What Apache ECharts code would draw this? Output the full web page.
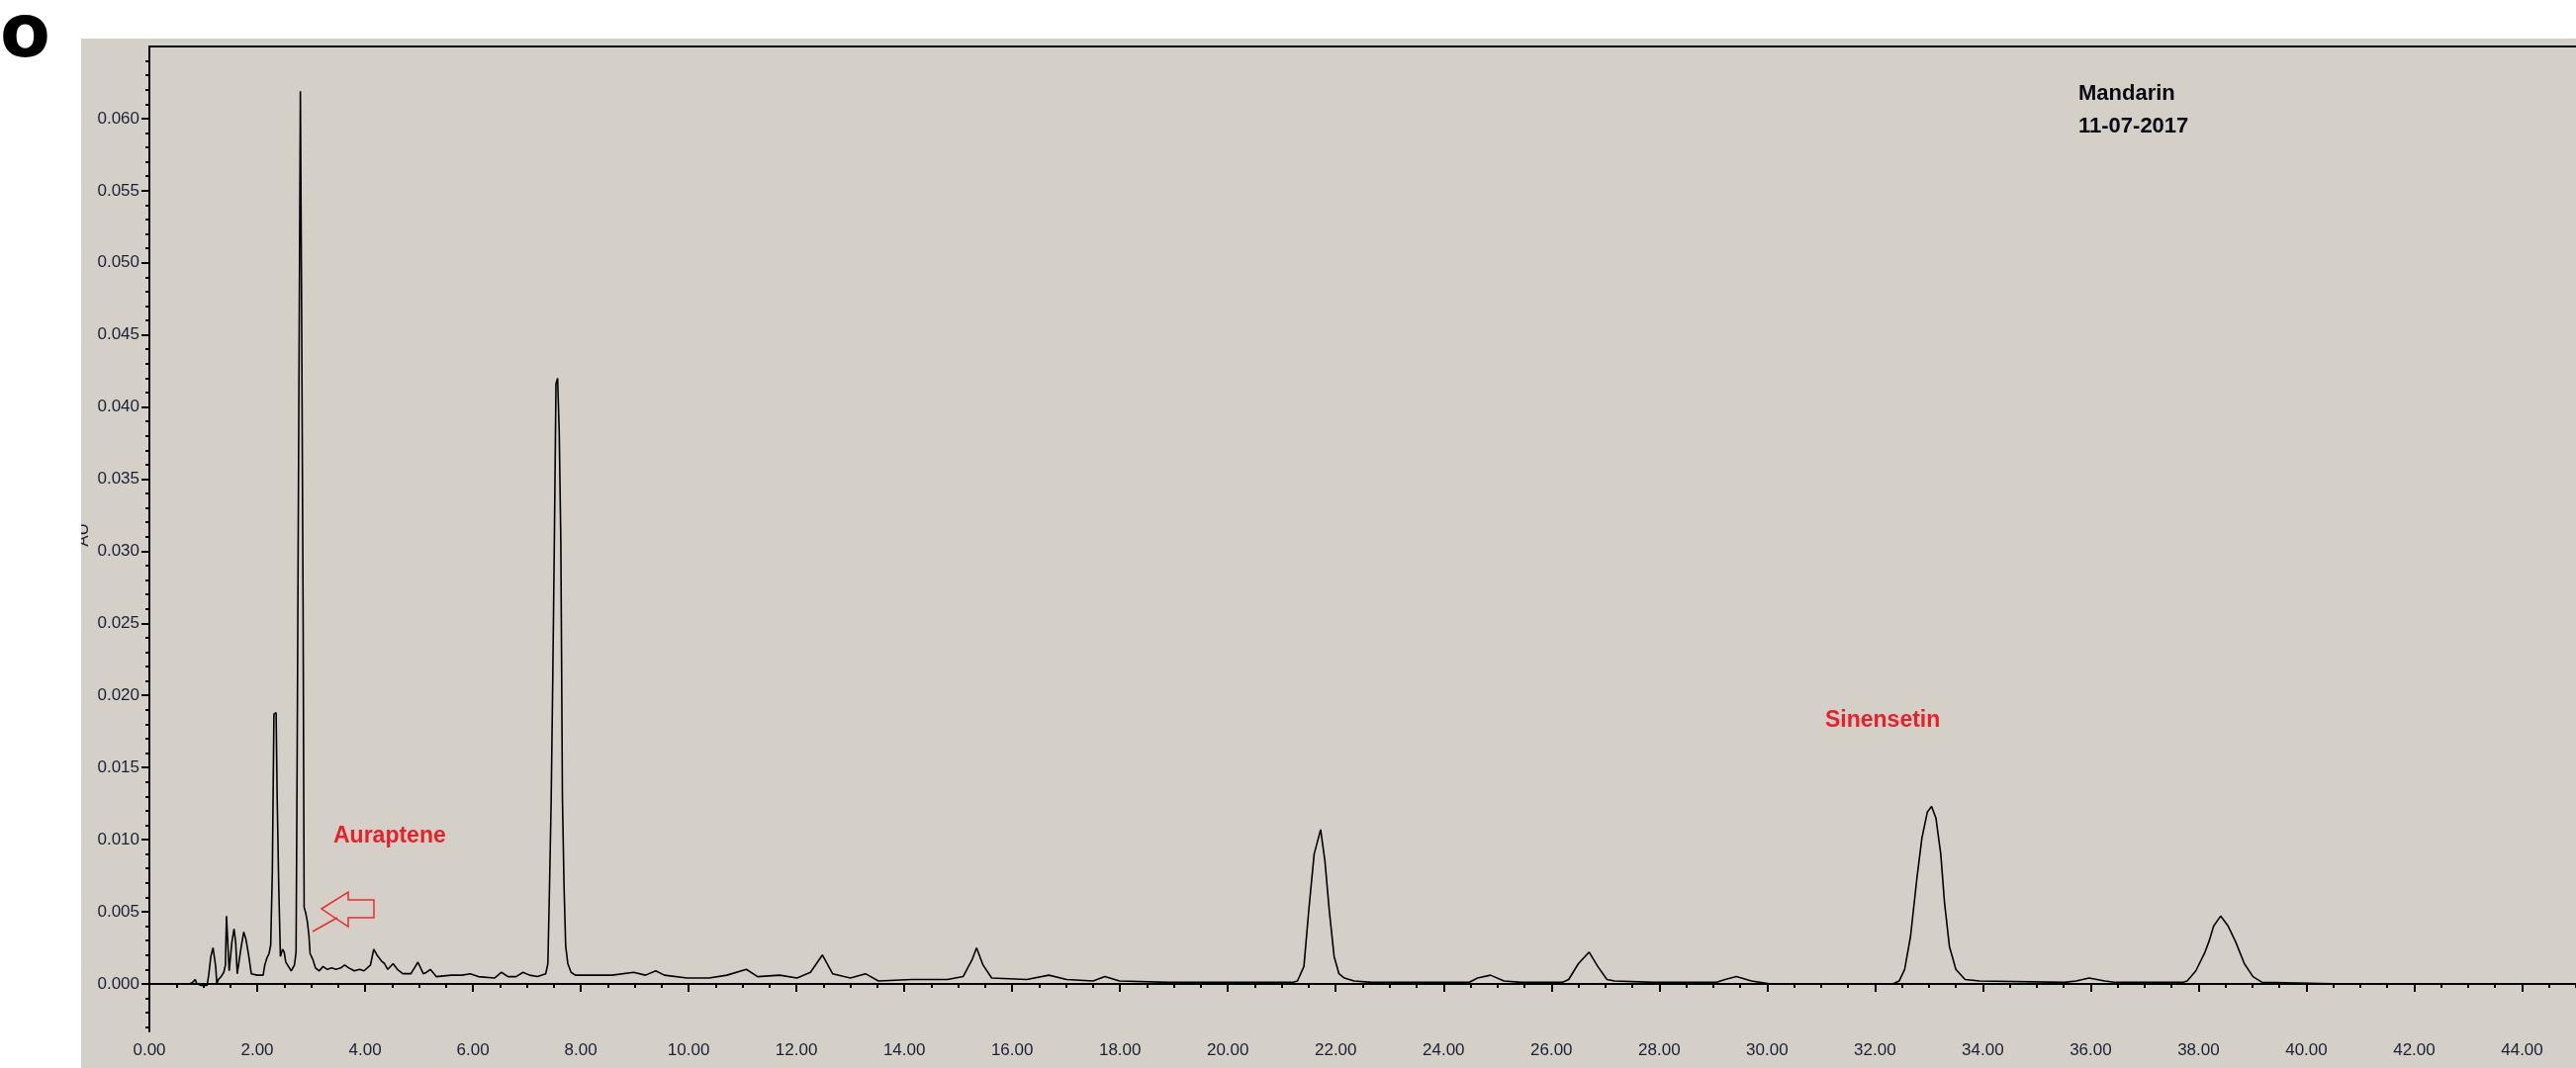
<!DOCTYPE html>
<html><head><meta charset="utf-8">
<script src="https://cdn.jsdelivr.net/npm/echarts@6/dist/echarts.min.js"></script>
<style>html,body{margin:0;padding:0;background:#fff}#c{width:2604px;height:1080px}</style>
</head><body><div id="c"></div>
<script>
// Retention time (min) and absorbance (AU)
const retentionTime = [
0.00,0.40,0.74,0.80,0.85,0.88,0.95,1.07,1.10,1.14,1.18,1.21,1.23,1.25,1.28,1.33,1.38,1.41,1.43,1.46,1.48,1.50,
1.53,1.57,1.60,1.63,1.66,1.70,1.75,1.79,1.84,1.89,2.00,2.11,2.14,2.18,2.22,2.25,2.28,2.31,2.35,2.37,2.40,2.43,
2.47,2.50,2.53,2.58,2.63,2.69,2.72,2.74,2.77,2.80,2.82,2.85,2.87,2.90,2.93,2.96,2.98,3.03,3.08,3.15,3.22,3.30,
3.38,3.46,3.55,3.62,3.70,3.80,3.90,3.98,4.10,4.16,4.22,4.30,4.36,4.42,4.52,4.60,4.70,4.85,4.98,5.08,5.14,5.21,
5.32,5.60,5.80,5.95,6.10,6.40,6.53,6.65,6.80,6.93,7.05,7.20,7.35,7.39,7.42,7.45,7.48,7.51,7.54,7.57,7.60,7.63,
7.66,7.69,7.72,7.76,7.82,7.90,8.25,8.58,8.98,9.20,9.39,9.55,9.97,10.38,10.71,11.07,11.28,11.69,12.01,12.26,
12.48,12.67,13.00,13.28,13.52,14.14,14.80,15.09,15.26,15.34,15.46,15.62,16.27,16.68,17.01,17.50,17.72,17.99,
18.90,21.20,21.29,21.41,21.50,21.60,21.72,21.80,21.88,21.97,22.06,22.16,22.34,22.67,24.47,24.63,24.87,25.12,
25.44,26.20,26.32,26.50,26.70,26.86,27.03,27.17,27.90,29.05,29.22,29.43,29.71,30.04,32.33,32.45,32.55,32.66,
32.78,32.87,32.97,33.05,33.13,33.22,33.29,33.38,33.50,33.67,33.94,35.51,35.73,35.97,36.26,36.47,37.70,37.79,
37.95,38.12,38.20,38.28,38.41,38.55,38.69,38.85,39.01,39.18,40.50,45.00
];
const absorbance = [
0.0000,0.0000,0.0000,0.0001,0.0003,0.0000,-0.0001,-0.0001,0.0006,0.0019,0.0025,0.0026,0.0012,0.0000,0.0003,0.0005,0.0008,0.0013,0.0047,0.0047,0.0009,0.0010,
0.0029,0.0038,0.0029,0.0007,0.0008,0.0025,0.0036,0.0031,0.0020,0.0007,0.0006,0.0006,0.0013,0.0018,0.0021,0.0027,0.0077,0.0187,0.0188,0.0129,0.0066,0.0019,
0.0024,0.0022,0.0015,0.0012,0.0009,0.0013,0.0022,0.0154,0.0390,0.0619,0.0491,0.0263,0.0053,0.0049,0.0043,0.0033,0.0021,0.0017,0.0011,0.0009,0.0012,0.0010,
0.0011,0.0010,0.0011,0.0013,0.0011,0.0009,0.0010,0.0009,0.0013,0.0024,0.0020,0.0016,0.0014,0.0010,0.0014,0.0010,0.0007,0.0007,0.0015,0.0007,0.0008,0.0010,
0.0005,0.0006,0.0006,0.0007,0.0005,0.0004,0.0008,0.0005,0.0005,0.0008,0.0006,0.0005,0.0007,0.0014,0.0067,0.0125,0.0210,0.0307,0.0416,0.0420,0.0383,0.0307,
0.0128,0.0067,0.0026,0.0014,0.0008,0.0006,0.0006,0.0006,0.0008,0.0006,0.0009,0.0006,0.0004,0.0004,0.0006,0.0010,0.0005,0.0006,0.0004,0.0008,
0.0020,0.0007,0.0004,0.0007,0.0002,0.0003,0.0003,0.0005,0.0017,0.0025,0.0013,0.0004,0.0003,0.0006,0.0003,0.0002,0.0005,0.0002,
0.0001,0.0001,0.0002,0.0012,0.0051,0.0090,0.0107,0.0085,0.0051,0.0019,0.0007,0.0004,0.0002,0.0001,0.0001,0.0004,0.0006,0.0002,
0.0001,0.0001,0.0003,0.0014,0.0022,0.0012,0.0003,0.0002,0.0001,0.0001,0.0003,0.0005,0.0002,0.0000,0.0000,0.0002,0.0010,0.0033,
0.0074,0.0101,0.0119,0.0123,0.0115,0.0090,0.0056,0.0026,0.0010,0.0003,0.0002,0.0001,0.0002,0.0004,0.0002,0.0001,0.0001,0.0002,
0.0009,0.0022,0.0030,0.0040,0.0047,0.0040,0.0029,0.0014,0.0005,0.0001,0.0000,0.0000
];
const yTickValues = [0.000,0.005,0.010,0.015,0.020,0.025,0.030,0.035,0.040,0.045,0.050,0.055,0.060];
const xTickValues = [0,2,4,6,8,10,12,14,16,18,20,22,24,26,28,30,32,34,36,38,40,42,44];
const yAxisName = 'AU';
const panelLabel = 'o';
const sampleLines = ['Mandarin', '11-07-2017'];
const peakLabels = ['Auraptene', 'Sinensetin'];

const yMinorTicks = [];
for (let i = -3; i <= 64; i++) yMinorTicks.push(+(i * 0.001).toFixed(3));
const xMinorTicks = [];
for (let i = 0; i <= 90; i++) xMinorTicks.push(i * 0.5);

const pts = retentionTime.map((t, i) => [t, absorbance[i]]);
const labelColor = '#1a1f36';
const fontFam = '"Liberation Sans", Arial, sans-serif';
const X_MIN = 0, X_MAX = 45, Y_MIN = -0.0033, Y_MAX = 0.065;

const chart = echarts.init(document.getElementById('c'), null, {renderer: 'canvas'});
chart.setOption({
  animation: false,
  backgroundColor: '#d4d0c8',
  grid: {left: 151, top: 47, right: 0, bottom: 37, containLabel: false},
  xAxis: [
    {type: 'value', min: X_MIN, max: X_MAX, position: 'bottom',
     axisLine: {show: true, lineStyle: {color: '#000', width: 2}},
     axisTick: {show: true, customValues: xTickValues, length: 8, lineStyle: {color: '#000', width: 2}},
     axisLabel: {customValues: xTickValues, formatter: v => v.toFixed(2), fontSize: 17, color: labelColor, margin: 11, fontFamily: fontFam},
     splitLine: {show: false}},
    {type: 'value', min: X_MIN, max: X_MAX, position: 'bottom',
     axisLine: {show: false},
     axisTick: {show: true, customValues: xMinorTicks, length: 4, lineStyle: {color: '#000', width: 2}},
     axisLabel: {show: false}, splitLine: {show: false}},
    {type: 'value', min: X_MIN, max: X_MAX, position: 'top',
     axisLine: {show: true, lineStyle: {color: '#000', width: 2}},
     axisTick: {show: false}, axisLabel: {show: false}, splitLine: {show: false}}
  ],
  yAxis: [
    {type: 'value', min: Y_MIN, max: Y_MAX, position: 'left',
     axisLine: {show: true, lineStyle: {color: '#000', width: 2}},
     axisTick: {show: true, customValues: yTickValues, length: 8, lineStyle: {color: '#000', width: 2}},
     axisLabel: {customValues: yTickValues, formatter: v => v.toFixed(3), fontSize: 17, color: labelColor, margin: 10, fontFamily: fontFam},
     splitLine: {show: false}},
    {type: 'value', min: Y_MIN, max: Y_MAX, position: 'left',
     axisLine: {show: false},
     axisTick: {show: true, customValues: yMinorTicks, length: 4, lineStyle: {color: '#000', width: 2}},
     axisLabel: {show: false}, splitLine: {show: false}}
  ],
  series: [{
    type: 'line', xAxisIndex: 0, yAxisIndex: 0, data: pts,
    showSymbol: false, symbol: 'none',
    lineStyle: {color: '#000', width: 1.6}, z: 5
  }],
  graphic: [
    {type: 'text', z: 1, x: 84, y: 541, rotation: Math.PI / 2,
     style: {text: yAxisName, fill: labelColor, fontSize: 17, fontFamily: fontFam, align: 'center', verticalAlign: 'middle'}},
    {type: 'rect', z: 2, shape: {x: 0, y: 0, width: 2604, height: 39}, style: {fill: '#fff'}},
    {type: 'rect', z: 2, shape: {x: 0, y: 0, width: 82, height: 1080}, style: {fill: '#fff'}},
    {type: 'text', z: 3, x: 0, y: 1,
     style: {text: panelLabel, fill: '#000', fontSize: 74, fontWeight: 'bold', fontFamily: '"DejaVu Sans", sans-serif', verticalAlign: 'top'}},
    {type: 'text', z: 10, x: 2101, y: 84,
     style: {text: sampleLines[0], fill: '#0a0a14', fontSize: 22, fontWeight: 'bold', fontFamily: fontFam, verticalAlign: 'top'}},
    {type: 'text', z: 10, x: 2101, y: 117,
     style: {text: sampleLines[1], fill: '#0a0a14', fontSize: 22, fontWeight: 'bold', fontFamily: fontFam, verticalAlign: 'top'}},
    {type: 'text', z: 10, x: 337, y: 834,
     style: {text: peakLabels[0], fill: '#e8202a', fontSize: 23, fontWeight: 'bold', fontFamily: fontFam, verticalAlign: 'top'}},
    {type: 'text', z: 10, x: 1845, y: 717,
     style: {text: peakLabels[1], fill: '#e8202a', fontSize: 23, fontWeight: 'bold', fontFamily: fontFam, verticalAlign: 'top'}},
    {type: 'polygon', z: 10,
     shape: {points: [[325, 919], [352, 902], [352, 910], [378, 910], [378, 928], [352, 928], [352, 937]]},
     style: {fill: 'none', stroke: '#ee2a33', lineWidth: 1.5}},
    {type: 'line', z: 10, shape: {x1: 316, y1: 942, x2: 341, y2: 928},
     style: {stroke: '#ee2a33', lineWidth: 1.5}}
  ]
});
</script>
</body></html>
